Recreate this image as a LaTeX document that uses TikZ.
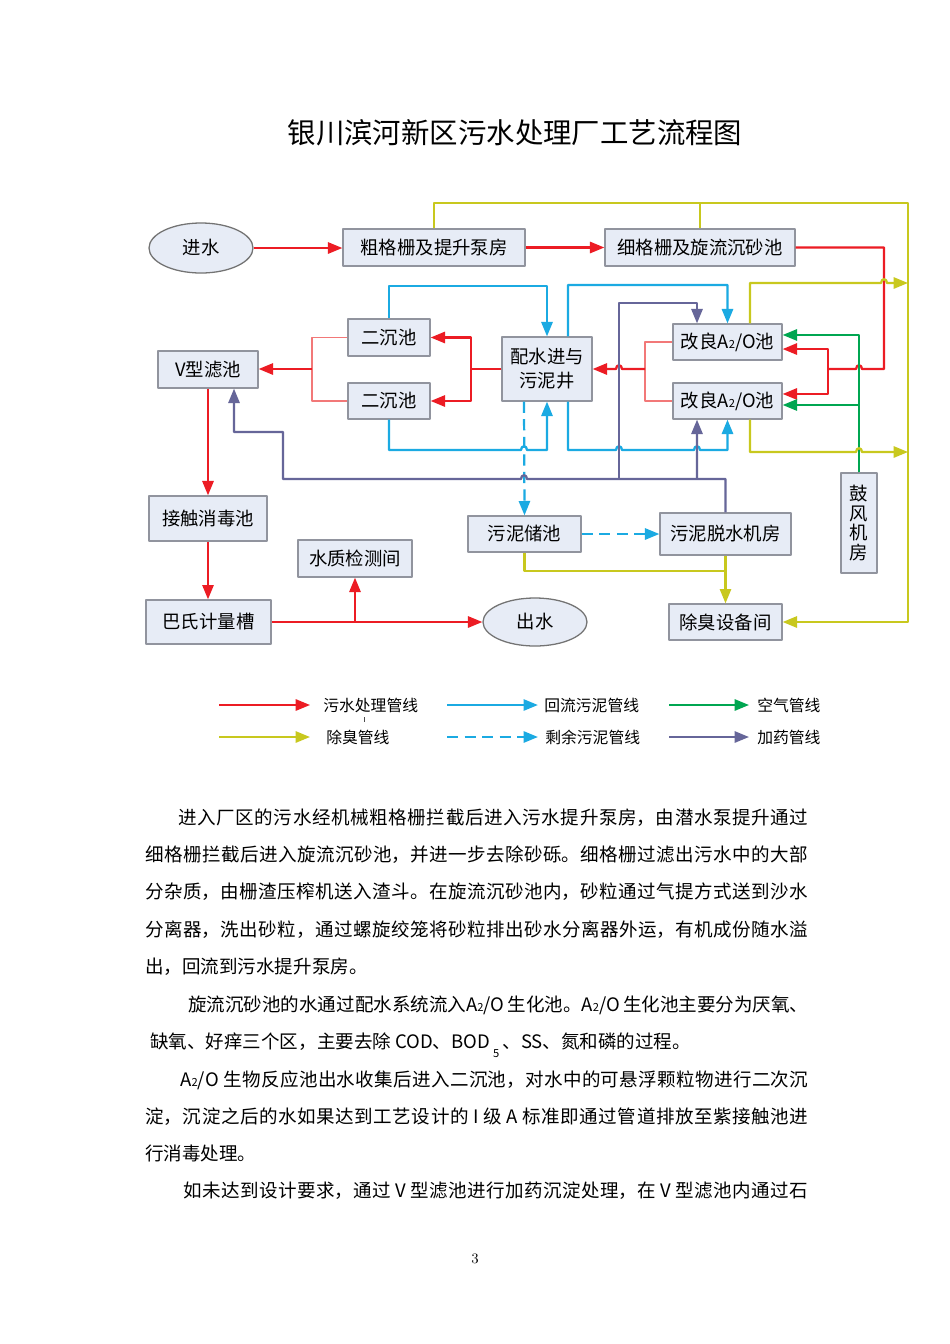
\documentclass[tikz,border=0pt]{standalone}
\usepackage{fontspec}
\newfontfamily\cjk{Noto Sans CJK SC}
\usetikzlibrary{arrows.meta,shapes.geometric}
\definecolor{pRed}{RGB}{236,28,36}
\definecolor{pRedL}{RGB}{242,120,120}
\definecolor{pBlue}{RGB}{27,170,226}
\definecolor{pGreen}{RGB}{0,166,81}
\definecolor{pYellow}{RGB}{200,200,30}
\definecolor{pPurple}{RGB}{102,102,153}
\definecolor{boxfill}{RGB}{231,236,246}
\definecolor{boxline}{RGB}{145,148,158}
\newcommand\px{0.6263pt}
\newcommand\Atwo{A{\fontsize{7}{8}\selectfont 2}}
\newcommand\subfive{\raisebox{-6pt}{\fontsize{7}{8}\selectfont 5}}
\XeTeXlinebreaklocale "zh"
\XeTeXlinebreakskip=0pt plus 1.5pt
\newcommand\jline[2]{\parbox[b]{#1}{\parfillskip=0pt #2}}
\tikzset{
  plant/.style={draw=boxline, fill=boxfill, line width=0.8pt, inner sep=1pt,
    font=\cjk\fontsize{11.5}{15}\selectfont},
  terminal/.style={plant, ellipse, draw=black!55},
  wh/.style 2 args={minimum width=#1*\px, minimum height=#2*\px},
  pipe/.style={line width=1.4pt},
  sewage/.style={pipe, draw=pRed},
  sewthin/.style={line width=0.7pt, draw=pRedL},
  sludge/.style={pipe, draw=pBlue},
  excess/.style={sludge, dash pattern=on 7pt off 4pt},
  air/.style={pipe, draw=pGreen},
  odour/.style={pipe, draw=pYellow},
  dosing/.style={pipe, draw=pPurple},
  legtext/.style={anchor=west, inner sep=0pt, font=\cjk\fontsize{9.9}{12}\selectfont},
  bodyline/.style={anchor=base west, inner sep=0pt, font=\cjk\fontsize{11.6}{14}\selectfont}
}
\begin{document}
\begin{tikzpicture}[x=0.6263pt, y=-0.6263pt, font=\cjk, >={Triangle[length=9pt,width=7pt]}, line join=round]
    \useasboundingbox (0,0) rectangle (950,1344);
    \fill[white] (0,0) rectangle (950,1344);

    % Title
    \node[font=\cjk\fontsize{17.8}{20}\selectfont] (title) at (515,133) {银川滨河新区污水处理厂工艺流程图};

    % Process units
    \node[terminal, wh={104}{50}] (inlet) at (201,248) {进水};
    \node[plant, wh={182}{37}] (coarse) at (434,247.5) {粗格栅及提升泵房};
    \node[plant, wh={190}{37}] (fine) at (700,247.5) {细格栅及旋流沉砂池};
    \node[plant, wh={82}{37}] (clarA) at (389,337.5) {二沉池};
    \node[plant, wh={82}{36}] (clarB) at (389,401) {二沉池};
    \node[plant, wh={100}{37}] (vfilter) at (208,369.5) {V型滤池};
    \node[plant, wh={90}{64}, align=center] (dwell) at (547,369) {配水进与\\污泥井};
    \node[plant, wh={109}{36}] (aoA) at (727.5,342) {改良\Atwo/O池};
    \node[plant, wh={109}{36}] (aoB) at (727.5,401) {改良\Atwo/O池};
    \node[plant, wh={36}{100}, align=center, font=\cjk\fontsize{11.5}{12.2}\selectfont] (blower) at (859,523) {鼓\\风\\机\\房};
    \node[plant, wh={113}{36}] (store) at (524.5,534) {污泥储池};
    \node[plant, wh={131}{42}] (dewater) at (725.5,534) {污泥脱水机房};
    \node[plant, wh={113}{36}] (deodor) at (725.5,622) {除臭设备间};
    \node[plant, wh={118}{45}] (contact) at (208,518.5) {接触消毒池};
    \node[plant, wh={125}{44}] (flume) at (208.5,622) {巴氏计量槽};
    \node[plant, wh={114}{37}] (lab) at (355,558.5) {水质检测间};
    \node[terminal, wh={104}{48}] (outlet) at (535,622) {出水};

    % Sewage lines
    \draw[sewage,->] (inlet.east) -- (coarse.west |- inlet.east);
    \draw[sewage,->] (coarse) -- (fine);
    \draw[sewage] (fine.east) -| (884,369) -- (862,369) .. controls (862,364) and (856,364) .. (856,369) -- (828,369);
    \draw[sewage,->] (828,369) |- ([yshift=-4.4pt]aoA.east);
    \draw[sewage,->] (828,369) |- ([yshift=4.4pt]aoB.east);
    \draw[sewthin] (aoA.west) -| (645,369) |- (aoB.west);
    \draw[sewage,->] (645,369) -- (622,369) .. controls (622,364) and (616,364) .. (616,369) -- (dwell.east);
    \draw[sewage] (dwell.west) -- (471,369);
    \draw[sewage,->] (471,369) |- (clarA.east);
    \draw[sewage,->] (471,369) |- (clarB.east);
    \draw[sewthin] (clarA.west) -| (312,369) |- (clarB.west);
    \draw[sewage,->] (312,369) -- (vfilter.east |- 312,369);
    \draw[sewage,->] (vfilter) -- (contact);
    \draw[sewage,->] (contact) -- (flume.north -| contact);
    \draw[sewage,->] (flume.east) -- (outlet.west);
    \draw[sewage,->] (355,622) -- (lab.south);

    % Return sludge lines
    \draw[sludge,->] (clarA.north) -- (389,286) -| (dwell.north);
    \draw[sludge,->] (clarB.south) -- (389,450) -- (521,450) .. controls (521,445) and (527,445) .. (527,450) -| (dwell.south);
    \draw[sludge,->] ([xshift=13.2pt]dwell.north) -- (568,285) -| (aoA.north);
    \draw[sludge,->] ([xshift=13.2pt]dwell.south) -- (568,450) -- (616,450) .. controls (616,445) and (622,445) .. (622,450)
        -- (694,450) .. controls (694,445) and (700,445) .. (700,450) -| (aoB.south);

    % Excess sludge lines
    \draw[excess,->] ([xshift=-14.4pt]dwell.south) -- (store.north);
    \draw[excess,->] (store) -- (dewater);

    % Dosing lines
    \draw[dosing,->] (dewater.north) -- (725.5,479) -- (527,479) .. controls (527,474) and (521,474) .. (521,479)
        -- (283,479) -- (283,432) -| ([xshift=16.3pt]vfilter.south);
    \draw[dosing,->] (619,479) -- (619,303) -| ([xshift=-19.1pt]aoA.north);
    \draw[dosing,->] (697,479) -- ([xshift=-19.1pt]aoB.south);

    % Air lines
    \draw[air,->] (blower.north) |- ([yshift=4.4pt]aoA.east);
    \draw[air,->] (blower.north) |- ([yshift=-2.5pt]aoB.east);

    % Deodorisation lines
    \draw[odour,->] (coarse.north) |- (908,203) |- (deodor.east);
    \draw[odour] (fine.north) -- (700,203);
    \draw[odour,->] ([xshift=14.1pt]aoA.north) -- (750,283) -- (881,283) .. controls (881,278) and (887,278) .. (887,283) -- (908,283);
    \draw[odour,->] ([xshift=14.1pt]aoB.south) -- (750,452) -- (856,452) .. controls (856,447) and (862,447) .. (862,452) -- (908,452);
    \draw[odour] (store.south) -- (524.5,571) -- (725.5,571);
    \draw[odour,->] (dewater.south) -- (deodor.north);

    % Legend
    \node[legtext] (lgSew) at (323,705) {污水处理管线};
    \node[legtext] (lgRet) at (544,705) {回流污泥管线};
    \node[legtext] (lgAir) at (757,705) {空气管线};
    \node[legtext] (lgOdo) at (326,737) {除臭管线};
    \node[legtext] (lgExc) at (545,737) {剩余污泥管线};
    \node[legtext] (lgDos) at (757,737) {加药管线};
    \draw[sewage,->] (219,705) -- ([xshift=-8.1pt]lgSew.west);
    \draw[sludge,->] (447,705) -- ([xshift=-3.8pt]lgRet.west);
    \draw[air,->] (669,705) -- ([xshift=-5pt]lgAir.west);
    \draw[odour,->] (219,737) -- ([xshift=-10pt]lgOdo.west);
    \draw[excess,->] (447,737) -- ([xshift=-4.4pt]lgExc.west);
    \draw[dosing,->] (669,737) -- ([xshift=-5pt]lgDos.west);
    \draw[black!70, line width=0.6pt] (364,717) -- (364,722);

    % Body text
    \node[bodyline] (p1a) at (178,824) {\jline{394.6pt}{进入厂区的污水经机械粗格栅拦截后进入污水提升泵房，由潜水泵提升通过}};
    \node[bodyline] (p1b) at (145,861) {\jline{415.2pt}{细格栅拦截后进入旋流沉砂池，并进一步去除砂砾。细格栅过滤出污水中的大部}};
    \node[bodyline] (p1c) at (145,898) {\jline{415.2pt}{分杂质，由栅渣压榨机送入渣斗。在旋流沉砂池内，砂粒通过气提方式送到沙水}};
    \node[bodyline] (p1d) at (145,936) {\jline{415.2pt}{分离器，洗出砂粒，通过螺旋绞笼将砂粒排出砂水分离器外运，有机成份随水溢}};
    \node[bodyline] (p1e) at (145,973) {出，回流到污水提升泵房。};
    \node[bodyline] (p2a) at (188,1011) {\jline{388.3pt}{旋流沉砂池的水通过配水系统流入\Atwo/O 生化池。\Atwo/O 生化池主要分为厌氧、}};
    \node[bodyline] (p2b) at (150,1048) {缺氧、好痒三个区，主要去除 COD、BOD\,\subfive\,、SS、氮和磷的过程。};
    \node[bodyline] (p3a) at (180,1086) {\jline{393.3pt}{\Atwo/O 生物反应池出水收集后进入二沉池，对水中的可悬浮颗粒物进行二次沉}};
    \node[bodyline] (p3b) at (145,1123) {\jline{415.2pt}{淀，沉淀之后的水如果达到工艺设计的 I 级 A 标准即通过管道排放至紫接触池进}};
    \node[bodyline] (p3c) at (145,1160) {行消毒处理。};
    \node[bodyline] (p4a) at (183,1197) {\jline{391.4pt}{如未达到设计要求，通过 V 型滤池进行加药沉淀处理，在 V 型滤池内通过石}};

    % Page number
    \node[font=\rmfamily\fontsize{9}{10}\selectfont] (pgno) at (475,1259) {3};
\end{tikzpicture}
\end{document}
